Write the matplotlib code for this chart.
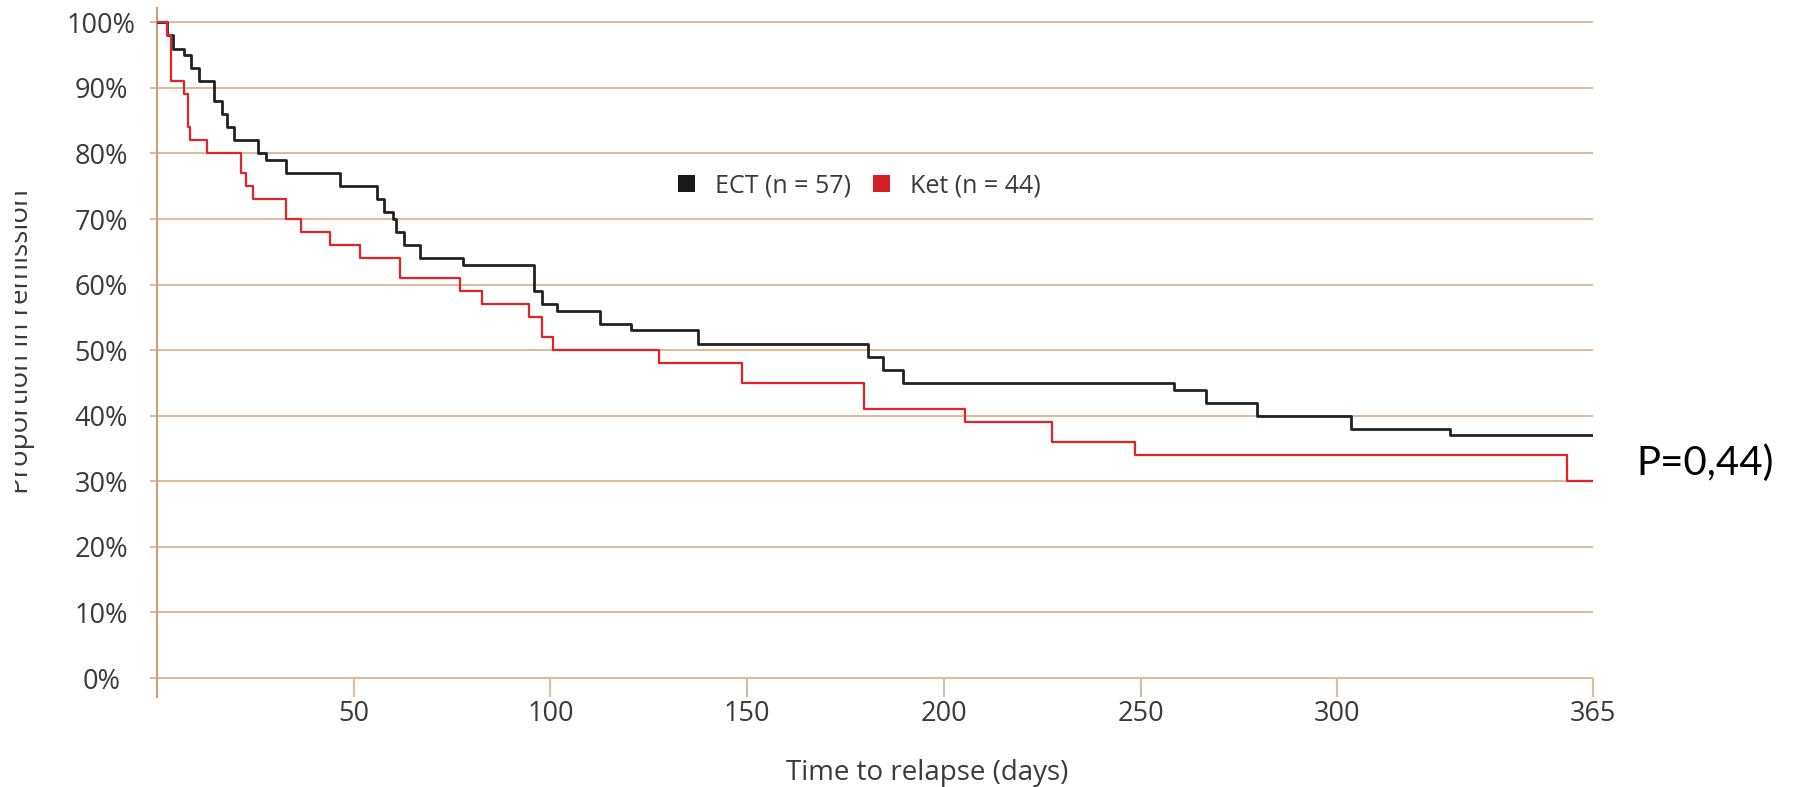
import matplotlib
matplotlib.use("Agg")
import matplotlib.pyplot as plt
from matplotlib.patches import Patch
from matplotlib.ticker import FuncFormatter
from matplotlib.transforms import Bbox, TransformedBbox

# Kaplan-Meier steps (day of drop, % still in remission after it)
ect_days = [2.6, 4.0, 6.8, 8.6, 10.7, 14.5, 16.6, 17.9, 19.6, 25.6, 27.7, 32.7,
            46.6, 55.9, 57.7, 60.0, 60.8, 62.7, 66.8, 77.7, 95.7, 97.8, 101.7,
            112.7, 120.6, 137.6, 180.6, 184.6, 189.6, 258.5, 266.7, 279.5,
            303.6, 328.6]
ect_surv = [98, 96, 95, 93, 91, 88, 86, 84, 82, 80, 79, 77,
            75, 73, 71, 70, 68, 66, 64, 63, 59, 57, 56,
            54, 53, 51, 49, 47, 45, 44, 42, 40,
            38, 37]

ket_days = [2.6, 3.5, 6.8, 8.0, 8.5, 12.8, 21.4, 22.5, 24.5, 32.7, 36.7, 43.9,
            51.7, 61.7, 76.9, 82.7, 94.5, 97.8, 100.6, 127.7, 148.6, 179.7,
            205.5, 227.5, 248.5, 358.4]
ket_surv = [98, 91, 89, 84, 82, 80, 77, 75, 73, 70, 68, 66,
            64, 61, 59, 57, 55, 52, 50, 48, 45, 41,
            39, 36, 34, 30]

x_ticks = [50, 100, 150, 200, 250, 300, 365]
y_ticks = [0, 10, 20, 30, 40, 50, 60, 70, 80, 90, 100]
labels = ["ECT (n = 57)", "Ket (n = 44)"]

grid_c = "#d9bd9d"
axis_c = "#c9a27c"
txt = "#3a3a3a"
black = "#222222"
red = "#e2232a"

plt.rcParams["font.family"] = ["Open Sans", "DejaVu Sans"]

fig = plt.figure(figsize=(18.04, 7.87), dpi=100)
ax = fig.add_axes([157 / 1804, 89.7 / 787, 1436 / 1804, 689.3 / 787])

def km(days, surv, end=365):
    xs = [0] + list(days) + [end]
    ys = [100] + list(surv) + [surv[-1]]
    return xs, ys

x, y = km(ect_days, ect_surv)
ax.step(x, y, where="post", color=black, lw=2.0, zorder=3)
x, y = km(ket_days, ket_surv)
ax.step(x, y, where="post", color=red, lw=1.6, zorder=4)

ax.set_xlim(0, 365)
ax.set_ylim(-2.94, 102.18)
ax.set_xticks(x_ticks)
ax.set_yticks(y_ticks)
ax.yaxis.set_major_formatter(FuncFormatter(lambda v, p: f"{v:.0f}%"))

ax.set_axisbelow(True)
ax.yaxis.grid(True, color=grid_c, lw=1.5)
ax.xaxis.grid(False)

for s in ["top", "right", "bottom"]:
    ax.spines[s].set_visible(False)
ax.spines["left"].set_color(axis_c)
ax.spines["left"].set_linewidth(1.5)

ax.tick_params(axis="y", direction="out", length=5, width=1.5, color=grid_c,
               pad=35, labelsize=19.5, labelcolor=txt)
ax.tick_params(axis="x", direction="in", length=13.7, width=1.5, color=grid_c,
               pad=2, labelsize=19.5, labelcolor=txt)
for lab in ax.get_yticklabels():
    lab.set_ha("center")

handles = [Patch(facecolor="#1a1a1a", edgecolor="none"),
           Patch(facecolor="#d42027", edgecolor="none")]
ax.legend(handles, labels, ncol=2, loc="center", bbox_to_anchor=(0.4892, 0.7418),
          frameon=False, fontsize=18, handlelength=0.66, handleheight=0.7,
          handletextpad=0.8, columnspacing=0.9, borderpad=0, labelcolor=txt)

# axis titles
fig.text(927 / 1804, 7 / 787, "Time to relapse (days)", ha="center", va="baseline",
         fontsize=20, color=txt)
yl = fig.text(35 / 1804, 445 / 787, "Proportion in remission", rotation=90,
              ha="right", va="center", fontsize=20, color=txt)
# the original picture was cropped through the y label
yl.set_clip_box(TransformedBbox(Bbox([[15 / 1804, 0], [1, 1]]), fig.transFigure))
yl.set_clip_on(True)

fig.text(1636 / 1804, 312 / 787, "P=0,44)", ha="left", va="baseline",
         fontsize=29, color="black", family=["Lato", "DejaVu Sans"])

fig.savefig("out.png", dpi=100)
